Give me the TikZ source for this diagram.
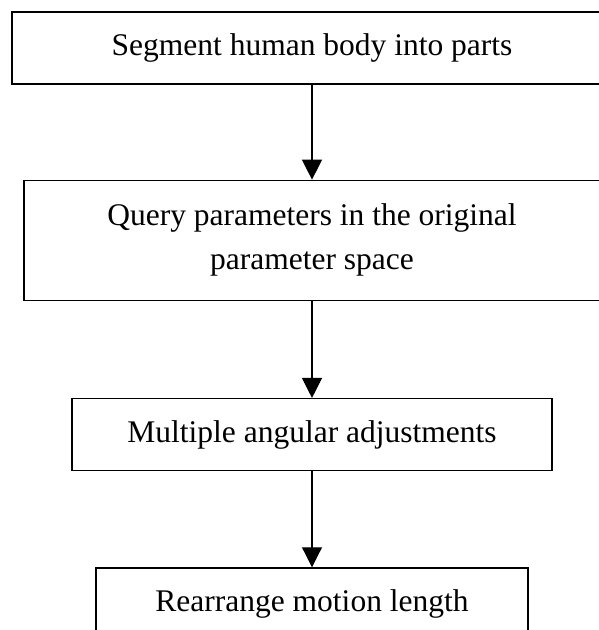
\documentclass[tikz,border=0pt]{standalone}
\usepackage{fontspec}
\setmainfont{Liberation Serif}
\usetikzlibrary{arrows.meta, positioning}

\begin{document}
\begin{tikzpicture}[
  x=1pt, y=1pt,
  node distance=96pt,
  box/.style={draw, line width=1.3pt, align=center, minimum height=72pt, inner sep=0pt, font=\fontsize{31.5}{44}\selectfont},
  arrow/.style={-{Triangle[length=20pt, width=20pt]}, line width=1.2pt}
]
  \useasboundingbox (0,0) rectangle (599,-630);
  \clip (0,0) rectangle (599,-630);

  \node[box, minimum width=600pt] (seg) at (312,-48) {Segment human body into parts};
  \node[box, minimum width=576pt, minimum height=120pt, below=95pt of seg] (query) {Query parameters in the original\\parameter space};
  \node[box, minimum width=480pt, below=97pt of query] (angle) {Multiple angular adjustments};
  \node[box, minimum width=432pt, below=of angle] (length) {Rearrange motion length};

  \draw[arrow] (seg) -- (query);
  \draw[arrow] (query) -- (angle);
  \draw[arrow] (angle) -- (length);
\end{tikzpicture}
\end{document}
